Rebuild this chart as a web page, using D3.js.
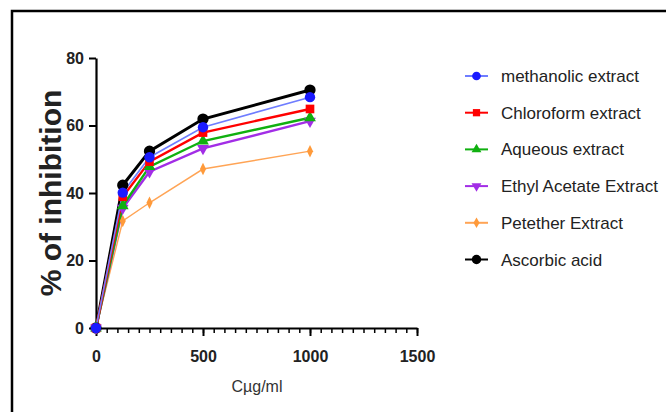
<!DOCTYPE html>
<html>
<head>
<meta charset="utf-8">
<script src="https://cdn.jsdelivr.net/npm/d3@7"></script>
<style>
  body { margin: 0; background: #fff; }
  svg { font-family: "Liberation Sans", Arial, sans-serif; }
</style>
</head>
<body>
<div id="chart"></div>
<script>
// concentrations (µg/ml) and % inhibition
var concentrations = [0, 125, 250, 500, 1000];
var methanolic   = [0, 40.1, 50.6, 59.5, 68.4];
var chloroform   = [0, 38.9, 49.3, 57.9, 64.9];
var aqueous      = [0, 36.2, 47.8, 55.4, 62.3];
var ethylAcetate = [0, 35.5, 46.3, 53.2, 61.3];
var petether     = [0, 31.7, 37.1, 47.1, 52.4];
var ascorbic     = [0, 42.3, 52.4, 61.9, 70.5];

var seriesNames = ["methanolic extract", "Chloroform extract", "Aqueous extract",
                   "Ethyl Acetate Extract", "Petether Extract", "Ascorbic acid"];
var xTicks = [0, 500, 1000, 1500];
var yTicks = [0, 20, 40, 60, 80];

var width = 666, height = 412;

var series = [
  { name: seriesNames[0], values: methanolic,   color: "#1a1aff", line: "#6f7dff", lw: 1.6, sym: d3.symbolCircle,   size: 85, rot: 0 },
  { name: seriesNames[1], values: chloroform,   color: "#ff0000", line: "#ff0000", lw: 2.4, sym: d3.symbolSquare,   size: 75, rot: 0 },
  { name: seriesNames[2], values: aqueous,      color: "#10b010", line: "#10b010", lw: 2.4, sym: d3.symbolTriangle, size: 60, rot: 0 },
  { name: seriesNames[3], values: ethylAcetate, color: "#a22de6", line: "#a22de6", lw: 2.4, sym: d3.symbolTriangle, size: 60, rot: 180 },
  { name: seriesNames[4], values: petether,     color: "#ff9a3a", line: "#ffa455", lw: 1.4, sym: d3.symbolDiamond,  size: 45, rot: 0 },
  { name: seriesNames[5], values: ascorbic,     color: "#000000", line: "#000000", lw: 3,   sym: d3.symbolCircle,   size: 100, rot: 0 }
];

var svg = d3.select("#chart").append("svg")
  .attr("width", width)
  .attr("height", height);

// frame (top and left edges only)
svg.append("path")
  .attr("d", "M12,412 L12,11 L666,11")
  .attr("fill", "none")
  .attr("stroke", "#000")
  .attr("stroke-width", 2.5);

var xScale = d3.scaleLinear().domain([0, 1500]).range([96, 417]);
var yScale = d3.scaleLinear().domain([0, 80]).range([328, 58]);

// minor x ticks
svg.append("g")
  .attr("transform", "translate(0,328)")
  .call(d3.axisBottom(xScale).tickValues(d3.range(0, 1501, 50)).tickSize(5).tickFormat(""))
  .call(g => g.select(".domain").remove())
  .call(g => g.selectAll("line").attr("stroke-width", 1.5));

var xAxis = svg.append("g")
  .attr("transform", "translate(0,328)")
  .call(d3.axisBottom(xScale).tickValues(xTicks).tickSize(8).tickPadding(15).tickSizeOuter(0).tickFormat(d3.format("d")));

var yAxis = svg.append("g")
  .attr("transform", "translate(96,0)")
  .call(d3.axisLeft(yScale).tickValues(yTicks).tickSize(7).tickPadding(5).tickSizeOuter(0).tickFormat(d3.format("d")));

[xAxis, yAxis].forEach(function(ax) {
  ax.select(".domain").attr("stroke-width", 2.2);
  ax.selectAll("line").attr("stroke-width", 2);
  ax.selectAll("text")
    .attr("font-size", 16)
    .attr("font-weight", "bold")
    .attr("fill", "#222")
    .style("font-family", "Liberation Sans, Arial, sans-serif");
});

// axis titles
svg.append("text")
  .attr("transform", "translate(61,193) rotate(-90)")
  .attr("text-anchor", "middle")
  .attr("font-size", 30)
  .attr("font-weight", "bold")
  .attr("fill", "#222")
  .text("% of inhibition");

svg.append("text")
  .attr("x", 257)
  .attr("y", 392)
  .attr("text-anchor", "middle")
  .attr("font-size", 16)
  .attr("fill", "#333")
  .text("Cµg/ml");

var line = d3.line()
  .x((d, i) => xScale(concentrations[i]))
  .y(d => yScale(d));

// drawn back to front so the first series sits on top
var drawOrder = series.slice().reverse();

drawOrder.forEach(function(s) {
  svg.append("path")
    .datum(s.values)
    .attr("d", line)
    .attr("fill", "none")
    .attr("stroke", s.line)
    .attr("stroke-width", s.lw);
});

drawOrder.forEach(function(s) {
  svg.append("g").selectAll("path")
    .data(s.values)
    .enter()
    .append("path")
    .attr("d", d3.symbol().type(s.sym).size(s.size))
    .attr("transform", (d, i) => `translate(${xScale(concentrations[i])},${yScale(d)}) rotate(${s.rot})` + (s.sym === d3.symbolDiamond ? " scale(0.85,1)" : ""))
    .attr("fill", s.color);
});

// legend
var legend = svg.append("g");
var rows = legend.selectAll("g")
  .data(series)
  .enter()
  .append("g")
  .attr("transform", (d, i) => `translate(0,${76 + i * 36.7})`);

rows.append("line")
  .attr("x1", 465).attr("x2", 488)
  .attr("y1", 0).attr("y2", 0)
  .attr("stroke", d => d.line)
  .attr("stroke-width", 2);

rows.append("path")
  .attr("d", d => d3.symbol().type(d.sym).size(d.size * 0.7)())
  .attr("transform", d => `translate(476.5,0) rotate(${d.rot})`)
  .attr("fill", d => d.color);

rows.append("text")
  .attr("x", 501)
  .attr("y", 6)
  .attr("font-size", 17)
  .attr("fill", "#222")
  .text(d => d.name);
</script>
</body>
</html>
